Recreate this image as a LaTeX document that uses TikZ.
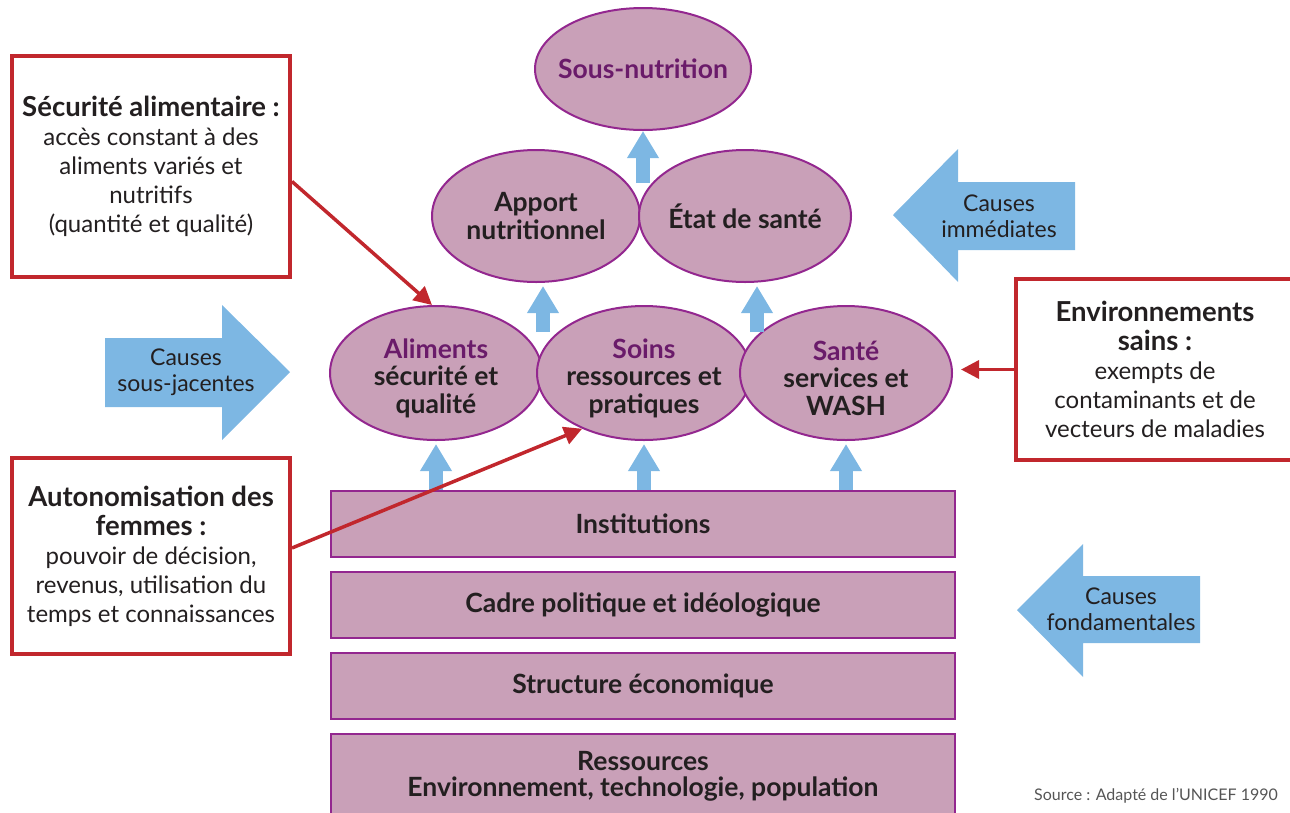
\documentclass[tikz,border=0pt]{standalone}
\usepackage{fontspec}
\setmainfont{Lato}
\usetikzlibrary{arrows.meta,calc,shapes.geometric}
\definecolor{pinkfill}{HTML}{C9A0B8}
\definecolor{purpleline}{HTML}{93278F}
\definecolor{purpletext}{HTML}{6A1B6A}
\definecolor{bluearrow}{HTML}{7DB7E3}
\definecolor{redline}{HTML}{C1272D}
\definecolor{textdark}{HTML}{231F20}
\definecolor{sourcegray}{HTML}{555555}
\newcommand\dgoval{\fontsize{26.5}{27.5}\selectfont\bfseries}
\newcommand\dglayer{\fontsize{26.5}{26}\selectfont\bfseries}
\newcommand\dgbox{\fontsize{24}{29}\selectfont}
\newcommand\dghead[1]{{\fontsize{27.5}{29}\selectfont\bfseries #1}}
\newcommand\dgcause{\fontsize{23}{26}\selectfont}
\newcommand\dglow{\rule{0pt}{30pt}}
\begin{document}
\begin{tikzpicture}[x=1pt,y=-1pt,
  oval/.style={ellipse, draw=purpleline, fill=pinkfill, line width=2pt, inner sep=0pt,
    inner xsep=-10pt, align=center, font=\dgoval, text=textdark},
  layerbox/.style={rectangle, draw=purpleline, fill=pinkfill, line width=2.5pt, inner sep=0pt,
    minimum width=624pt, align=center, font=\dglayer, text=textdark},
  redbox/.style={rectangle, draw=redline, fill=white, line width=4pt, inner sep=0pt,
    align=center, font=\dgbox, text=textdark},
  causetext/.style={align=center, font=\dgcause, text=textdark, inner sep=0pt},
  blockarrow/.style={draw=bluearrow, line width=14pt, -{Triangle[width=30pt,length=27pt]}},
  redarrow/.style={draw=redline, line width=3.5pt, -{Triangle[width=18pt,length=18pt]}},
  bigarrow/.style={fill=bluearrow}
]
\useasboundingbox (0,0) rectangle (1290,812);

% big blue arrows
\fill[bigarrow] (893,215) -- (958,149) -- (958,182) -- (1075,182) -- (1075,250) -- (958,250) -- (958,282) -- cycle;
\node[causetext] (cimm) at (999,216) {Causes\\immédiates};
\fill[bigarrow] (290,372) -- (222,305) -- (222,338) -- (105,338) -- (105,407) -- (222,407) -- (222,440) -- cycle;
\node[causetext] (csous) at (186,372) {Causes\\sous-jacentes};
\fill[bigarrow] (1017,610) -- (1083,544) -- (1083,576) -- (1200,576) -- (1200,643) -- (1083,643) -- (1083,677) -- cycle;
\node[causetext] (cfond) at (1121,609) {Causes\\fondamentales};

% ellipses
\node[oval, minimum width=216pt, minimum height=122pt, text=purpletext] (sous) at (643,69) {Sous-nutrition};
\node[oval, minimum width=208pt, minimum height=132pt] (apport) at (536,216) {Apport\\nutritionnel};
\node[oval, minimum width=212pt, minimum height=132pt] (etat) at (745,216) {État de santé};
\node[oval, minimum width=212pt, minimum height=134pt] (ali) at (436,373) {\dglow\textcolor{purpletext}{Aliments}\\sécurité et\\qualité};
\node[oval, minimum width=214pt, minimum height=134pt] (soins) at (644,373) {\dglow\textcolor{purpletext}{Soins}\\ressources et\\pratiques};
\node[oval, minimum width=212pt, minimum height=134pt] (sante) at (846,373) {\dglow\textcolor{purpletext}{Santé}\\services et\\WASH};

% layers
\node[layerbox, minimum height=66pt] (inst) at (643,524) {Institutions};
\node[layerbox, minimum height=66pt] (cadre) at (643,605) {Cadre politique et idéologique};
\node[layerbox, minimum height=66pt] (struct) at (643,686) {Structure économique};
\node[layerbox, minimum height=84pt] (ress) at (643,776) {Ressources\\Environnement, technologie, population};

% red boxes
\node[redbox, minimum width=278pt, minimum height=221pt] (sec) at (151,166.5)
  {\dghead{Sécurité alimentaire :}\\accès constant à des\\aliments variés et\\nutritifs\\(quantité et qualité)};
\node[redbox, minimum width=278pt, minimum height=196pt] (aut) at (151,556)
  {\dghead{Autonomisation des}\\\dghead{femmes :}\\pouvoir de décision,\\revenus, utilisation du\\temps et connaissances};
\node[redbox, minimum width=278pt, minimum height=181pt] (env) at (1155,369.5)
  {\dghead{Environnements}\\\dghead{sains :}\\exempts de\\contaminants et de\\vecteurs de maladies};

% small blue arrows
\coordinate (upA) at (543,332);
\coordinate (upE) at (757,332);
\coordinate (upS) at (643,183);
\draw[blockarrow] (upS) -- (upS |- sous.south);
\draw[blockarrow] (upA) -- ($(upA |- apport.south)+(0,3)$);
\draw[blockarrow] (upE) -- ($(upE |- etat.south)+(0,3)$);
\draw[blockarrow] (inst.north -| ali.south) -- ($(ali.south)+(0,3)$);
\draw[blockarrow] (inst.north -| soins.south) -- ($(soins.south)+(0,3)$);
\draw[blockarrow] (inst.north -| sante.south) -- ($(sante.south)+(0,3)$);

% red arrows
\draw[redarrow] ($(sec.east)+(0,15)$) -- ($(ali.north)+(-4,0)$);
\draw[redarrow] ($(aut.east)+(0,-8)$) -- (soins.222);
\draw[redarrow] (env.west) -- ($(env.west -| sante.east)+(8,0)$);

% source
\node[anchor=base east, font=\fontsize{16}{18}\selectfont, text=sourcegray, inner sep=0pt] (src) at (1278,800) {Source : Adapté de l'UNICEF 1990};
\end{tikzpicture}
\end{document}
